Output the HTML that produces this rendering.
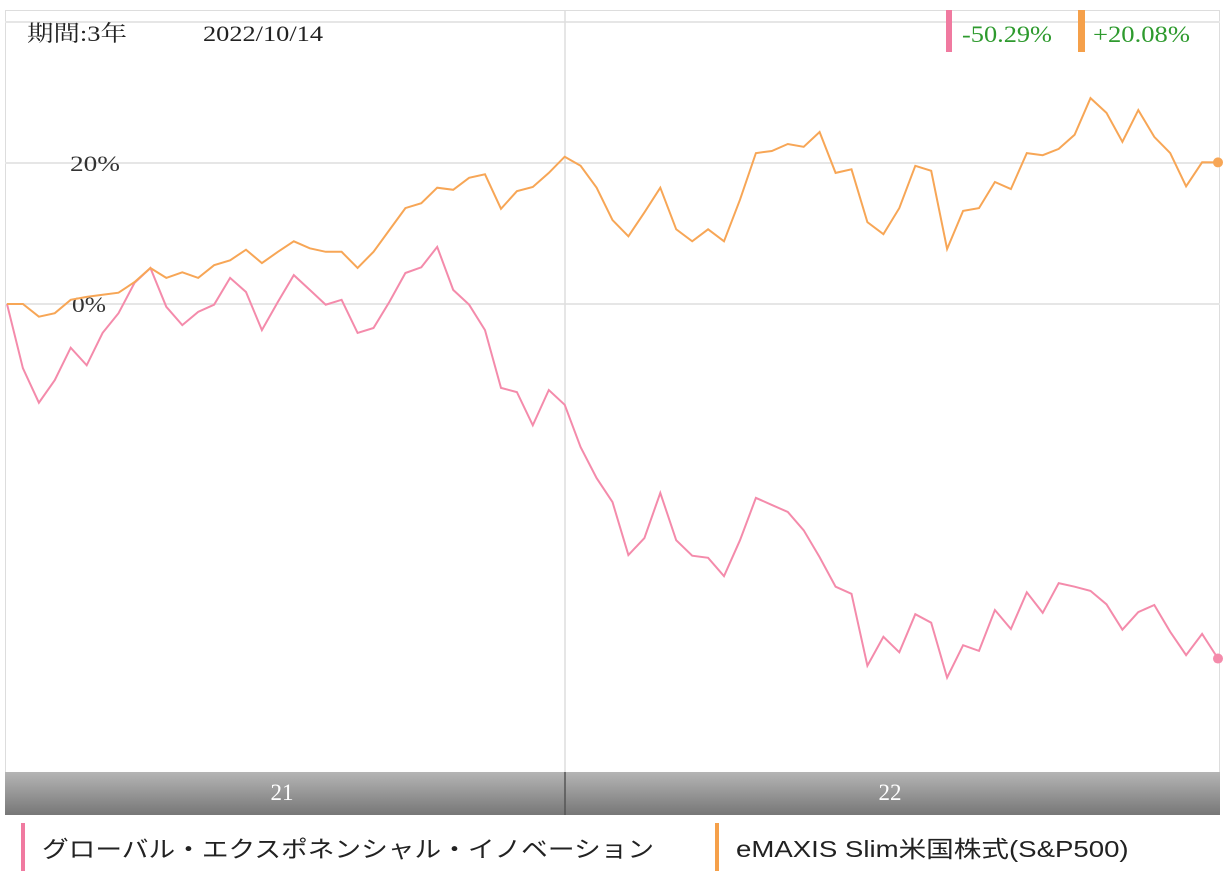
<!DOCTYPE html>
<html><head><meta charset="utf-8"><style>
html,body{margin:0;padding:0;background:#fff;}
body{width:1226px;height:885px;overflow:hidden;position:relative;font-family:"Liberation Serif","Noto Serif CJK SC",serif;}
.lg{position:absolute;font-family:"Liberation Sans","Noto Sans CJK JP",sans-serif;font-size:23px;color:#222;transform-origin:0 50%;white-space:nowrap;}
</style></head><body>
<svg id="chart" width="1226" height="885" style="position:absolute;left:0;top:0">
  <rect x="5.5" y="10.5" width="1214" height="804" fill="none" stroke="#ddd"/>
  <g id="grid"></g>
  <line x1="565" y1="10" x2="565" y2="772" stroke="#ddd" stroke-width="1.5"/>
  <defs><linearGradient id="axg" x1="0" y1="0" x2="0" y2="1"><stop offset="0" stop-color="#b5b5b5"/><stop offset="1" stop-color="#777"/></linearGradient></defs>
  <rect x="5" y="772" width="1215" height="43" fill="url(#axg)"/>
  <line x1="565" y1="772" x2="565" y2="815" stroke="#555" stroke-width="1.5"/>
  <text x="282" y="800" fill="#fff" font-size="23" text-anchor="middle">21</text>
  <text x="890" y="800" fill="#fff" font-size="23" text-anchor="middle">22</text>
  <text x="27" y="41" fill="#222" font-size="22" textLength="100" lengthAdjust="spacingAndGlyphs" font-family="Liberation Serif, Noto Serif CJK SC, serif">期間:3年</text>
  <text x="203" y="41" fill="#222" font-size="22" textLength="120" lengthAdjust="spacingAndGlyphs">2022/10/14</text>
  <rect x="946" y="10" width="6" height="42" fill="#f07aa0"/>
  <text x="962" y="42" fill="#2e9a2e" font-size="23" textLength="90" lengthAdjust="spacingAndGlyphs">-50.29%</text>
  <rect x="1078" y="10" width="7" height="42" fill="#f5a04a"/>
  <text x="1093" y="42" fill="#2e9a2e" font-size="23" textLength="97" lengthAdjust="spacingAndGlyphs">+20.08%</text>
  <g id="ylabels"></g>
  <g id="series"></g>
</svg>
<div style="position:absolute;left:21px;top:823px;width:4px;height:48px;background:#f07aa0"></div>
<div class="lg" style="left:42px;top:830px;transform:scaleX(1.16)">グローバル・エクスポネンシャル・イノベーション</div>
<div style="position:absolute;left:715px;top:823px;width:4px;height:48px;background:#f5a04a"></div>
<div class="lg" style="left:736px;top:830px;transform:scaleX(1.2)">eMAXIS Slim米国株式(S&amp;P500)</div>
<script>
const yTicks = [40, 20, 0];
const yTickLabels = ["", "20%", "0%"];
const pinkValues = [0,-9.1,-14.0,-10.8,-6.2,-8.7,-4.1,-1.3,3.0,5.1,-0.4,-3.0,-1.1,-0.1,3.7,1.7,-3.7,0.3,4.1,2.0,-0.1,0.6,-4.1,-3.4,0.3,4.4,5.2,8.1,2.0,-0.1,-3.7,-11.9,-12.5,-17.2,-12.2,-14.3,-20.3,-24.7,-28.1,-35.6,-33.2,-26.8,-33.5,-35.7,-36.0,-38.6,-33.5,-27.5,-28.5,-29.5,-32.1,-35.9,-40.1,-41.1,-51.3,-47.2,-49.4,-44.0,-45.2,-53.0,-48.4,-49.2,-43.4,-46.1,-40.9,-43.8,-39.6,-40.1,-40.7,-42.6,-46.2,-43.7,-42.7,-46.5,-49.8,-46.8,-50.29];
const orangeValues = [0,0,-1.8,-1.3,0.6,1.0,1.3,1.6,3.1,5.1,3.7,4.5,3.7,5.5,6.2,7.7,5.8,7.4,8.9,7.9,7.4,7.4,5.1,7.4,10.5,13.6,14.3,16.5,16.2,17.9,18.4,13.5,16.0,16.6,18.6,20.9,19.6,16.5,11.9,9.6,13.0,16.5,10.6,8.9,10.6,8.9,14.8,21.4,21.7,22.7,22.3,24.4,18.6,19.1,11.6,9.9,13.6,19.6,18.9,7.8,13.2,13.6,17.3,16.3,21.4,21.1,22.0,24.0,29.2,27.1,23.0,27.5,23.7,21.4,16.7,20.1,20.08];
const NS="http://www.w3.org/2000/svg";
const X0=7, X1=1218;
function yScale(v){return 304 - v*7.05;}
function xScale(i,n){return X0 + (X1-X0)*i/(n-1);}
const grid=document.getElementById('grid');
const yl=document.getElementById('ylabels');
yTicks.forEach((t,k)=>{
  const l=document.createElementNS(NS,'line');
  
  
  l.setAttribute('x1',5);l.setAttribute('x2',1220);
  l.setAttribute('y1',yScale(t));l.setAttribute('y2',yScale(t));
  l.setAttribute('stroke','#e6e6e6');l.setAttribute('stroke-width','2');
  grid.appendChild(l);
  if(yTickLabels[k]){
    const tx=document.createElementNS(NS,'text');
    
    
    tx.setAttribute('x',yTickLabels[k].length>2?70:72);tx.setAttribute('y',yScale(t)+8);
    tx.setAttribute('font-size','22');tx.setAttribute('fill','#333');
    tx.setAttribute('textLength',yTickLabels[k].length>2?50:34);
    tx.setAttribute('lengthAdjust','spacingAndGlyphs');
    tx.textContent=yTickLabels[k];
    yl.appendChild(tx);
  }
});
const sg=document.getElementById('series');
function draw(vals,color,name){
  const n=vals.length;
  const p=document.createElementNS(NS,'polyline');
  
  
  p.setAttribute('points',vals.map((v,i)=>xScale(i,n).toFixed(1)+','+yScale(v).toFixed(1)).join(' '));
  p.setAttribute('fill','none');p.setAttribute('stroke',color);p.setAttribute('stroke-width','2');
  sg.appendChild(p);
  const c=document.createElementNS(NS,'circle');
  
  
  c.setAttribute('cx',xScale(n-1,n));c.setAttribute('cy',yScale(vals[n-1]));
  c.setAttribute('r','5');c.setAttribute('fill',color);
  sg.appendChild(c);
}
draw(pinkValues,'#f48bab','pink-series');
draw(orangeValues,'#f7a656','orange-series');
</script>
</body></html>
